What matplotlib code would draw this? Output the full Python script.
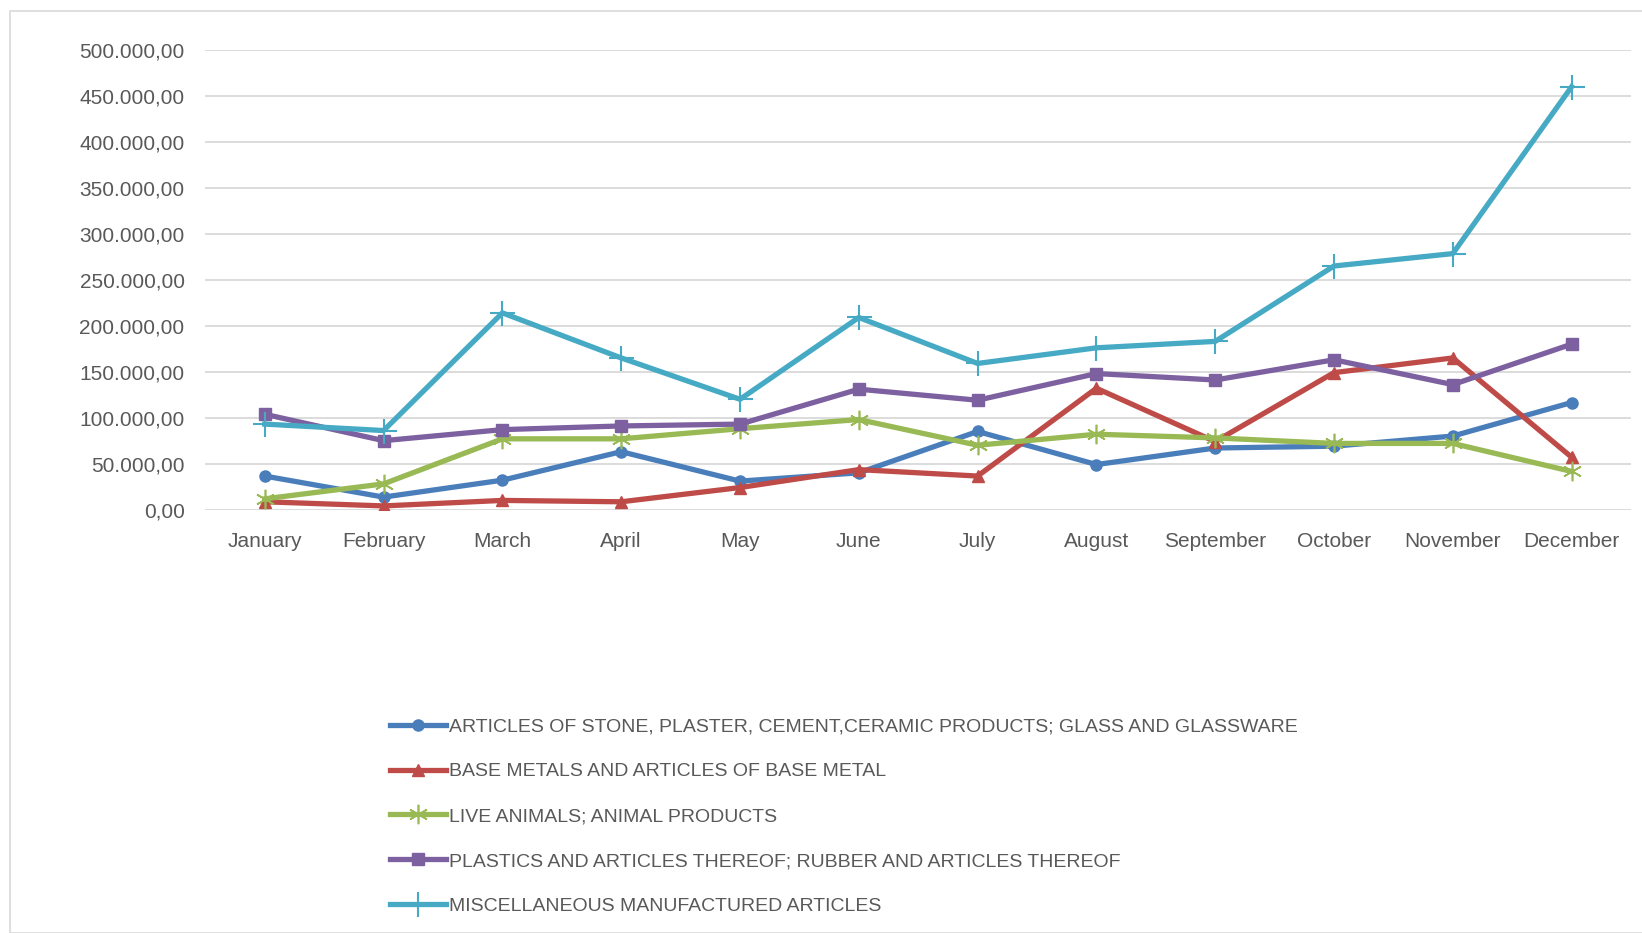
import matplotlib.pyplot as plt
from matplotlib.patches import Rectangle
from matplotlib.ticker import FuncFormatter

months = ['January', 'February', 'March', 'April', 'May', 'June', 'July',
          'August', 'September', 'October', 'November', 'December']

stone = [36500, 13600, 32000, 63000, 31000, 40000, 85000, 49000, 67000, 69000, 80000, 116500]
metals = [8500, 4000, 10000, 8500, 24000, 43500, 36500, 132000, 74000, 149000, 165000, 57000]
animals = [11700, 28000, 77000, 77000, 88000, 98000, 70000, 82000, 78000, 72000, 72000, 41500]
plastics = [103700, 75000, 87000, 91000, 93000, 131000, 119000, 148000, 141000, 163000, 136000, 180000]
misc = [93000, 86000, 214000, 165000, 120000, 209000, 159000, 176000, 183000, 265000, 278500, 460000]

labels = ['ARTICLES OF STONE, PLASTER, CEMENT,CERAMIC PRODUCTS; GLASS AND GLASSWARE',
          'BASE METALS AND ARTICLES OF BASE METAL',
          'LIVE ANIMALS; ANIMAL PRODUCTS',
          'PLASTICS AND ARTICLES THEREOF; RUBBER AND ARTICLES THEREOF',
          'MISCELLANEOUS MANUFACTURED ARTICLES']

plt.rcParams['font.family'] = ['Liberation Sans', 'DejaVu Sans']

W, H = 1642, 933
fig = plt.figure(figsize=(W / 100, H / 100), dpi=100)
fig.patches.append(Rectangle((10 / W, 0), 2, 1 - 11 / H, transform=fig.transFigure,
                             fill=False, edgecolor='#d9d9d9', lw=1.2))

ax = fig.add_axes([205.4 / W, 1 - 509.6 / H, (1631 - 205.4) / W, (509.6 - 50) / H])

x = list(range(len(months)))
series = [
    (stone, '#4a7ebb', dict(marker='o', ms=8)),
    (metals, '#be4b48', dict(marker='^', ms=9)),
    (animals, '#98b954', dict(marker=(6, 2, 0), ms=14, mew=1.2)),
    (plastics, '#7d60a0', dict(marker='s', ms=9)),
    (misc, '#46aac5', dict(marker='+', ms=18, mew=1.5)),
]
for (vals, col, mk), lab in zip(series, labels):
    ax.plot(x, vals, color=col, lw=3.8, label=lab, mfc=col, mec=col, **mk)

ax.set_xlim(-0.5, 11.5)
ax.set_ylim(0, 500000)
ax.set_yticks(range(0, 500001, 50000))
ax.yaxis.set_major_formatter(FuncFormatter(lambda v, p: f'{int(v):,}'.replace(',', '.') + ',00'))
ax.set_xticks(x)
ax.set_xticklabels(months)
ax.grid(axis='y', color='#d9d9d9', lw=1.3)
ax.set_axisbelow(True)
for s in ax.spines.values():
    s.set_visible(False)
ax.tick_params(length=0, labelsize=15, labelcolor='#595959')
ax.tick_params(axis='y', pad=15)
ax.tick_params(axis='x', pad=16)

fig.legend(loc='upper left', bbox_to_anchor=(390 / W, 1 - 718 / H), frameon=False,
           fontsize=14, labelcolor='#595959', handlelength=2.9, handletextpad=0.15,
           labelspacing=1.4, borderpad=0, borderaxespad=0)

fig.savefig('out.png', dpi=100)
